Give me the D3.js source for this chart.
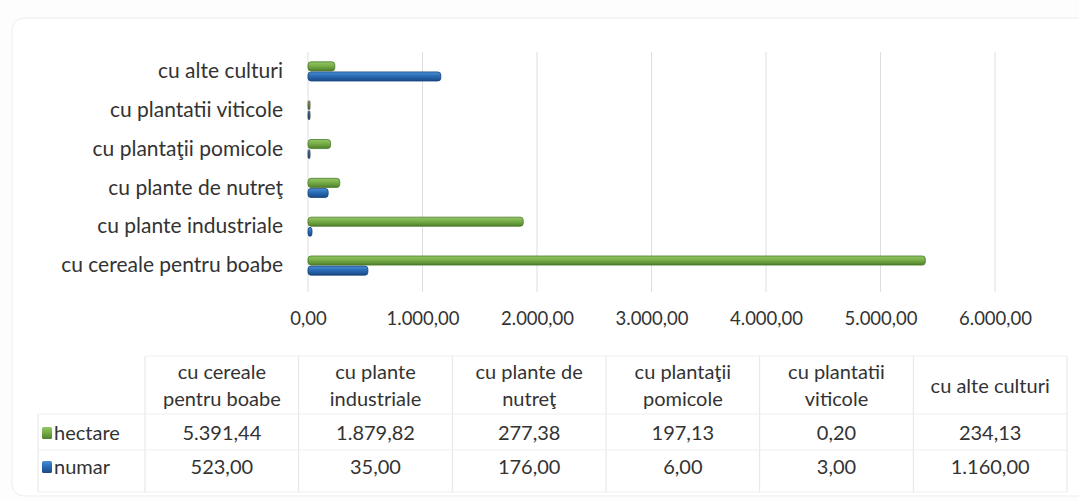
<!DOCTYPE html>
<html lang="ro">
<head>
<meta charset="utf-8">
<title>Exploatatii agricole</title>
<script src="https://cdnjs.cloudflare.com/ajax/libs/d3/7.8.5/d3.min.js"></script>
<style>
  body { margin: 0; background: #fdfdfd; }
  svg text { font-family: Lato, "Open Sans", sans-serif; fill: #333; }
</style>
</head>
<body>
<div id="chart"></div>
<script>
// categories as they appear in the table (left to right)
const categories = ["cu cereale pentru boabe", "cu plante industriale", "cu plante de nutreţ",
                    "cu plantaţii pomicole", "cu plantatii viticole", "cu alte culturi"];
// same categories, wrapped the way the table header shows them
const tableHeaders = [["cu cereale", "pentru boabe"], ["cu plante", "industriale"], ["cu plante de", "nutreţ"],
                      ["cu plantaţii", "pomicole"], ["cu plantatii", "viticole"], ["cu alte culturi"]];
const seriesNames = ["hectare", "numar"];
const hectare = [5391.44, 1879.82, 277.38, 197.13, 0.20, 234.13];
const numar = [523, 35, 176, 6, 3, 1160];
const tickValues = [0, 1000, 2000, 3000, 4000, 5000, 6000];

const W = 1079, H = 501;
const ro = d3.formatLocale({decimal: ",", thousands: ".", grouping: [3], currency: ["", ""]});
const fmt = ro.format(",.2f");

const svg = d3.select("#chart").append("svg")
    .attr("width", W)
    .attr("height", H);

// gradients for the rounded "cylinder" bars
const defs = svg.append("defs");
const grads = {
  hectare: ["#93c664", "#78ae48", "#4f7f2b"],
  numar: ["#4a8fd6", "#2a6cb5", "#1a4a85"]
};
seriesNames.forEach(s => {
  const g = defs.append("linearGradient").attr("id", "g-" + s)
      .attr("x1", 0).attr("y1", 0).attr("x2", 0).attr("y2", 1);
  g.append("stop").attr("offset", "0%").attr("stop-color", grads[s][0]);
  g.append("stop").attr("offset", "45%").attr("stop-color", grads[s][1]);
  g.append("stop").attr("offset", "100%").attr("stop-color", grads[s][2]);
});

// outer chart frame (barely visible in the scan)
svg.append("rect")
    .attr("x", 12).attr("y", 18)
    .attr("width", 1100).attr("height", 478)
    .attr("rx", 12)
    .attr("fill", "#fff")
    .attr("stroke", "#ededed");

const x = d3.scaleLinear().domain([0, 6000]).range([308, 995]);
const y = d3.scaleBand()
    .domain(categories.slice().reverse())
    .range([52, 285])
    .paddingInner(0.48)
    .paddingOuter(0.24);
const ySub = d3.scaleBand().domain(seriesNames).range([0, y.bandwidth()]);

// vertical gridlines
svg.append("g").selectAll("line")
  .data(tickValues)
  .join("line")
    .attr("x1", d => x(d)).attr("x2", d => x(d))
    .attr("y1", 52).attr("y2", 292)
    .attr("stroke", "#dedede");

// x axis labels
const xAxis = d3.axisBottom(x).tickValues(tickValues).tickFormat(fmt).tickSize(0).tickPadding(0);
const gx = svg.append("g").attr("transform", "translate(0,312)").call(xAxis);
gx.select(".domain").remove();
gx.selectAll("text").style("font-size", "18.5px").attr("fill", "#333").attr("font-family", null);

// category labels
const yAxis = d3.axisLeft(y).tickSize(0).tickPadding(0);
const gy = svg.append("g").attr("transform", "translate(283,0)").call(yAxis);
gy.select(".domain").remove();
gy.selectAll("text").style("font-size", "21px").attr("fill", "#333").attr("font-family", null);

// bars
const values = {hectare: hectare, numar: numar};
const bars = [];
seriesNames.forEach(s => categories.forEach((c, i) => bars.push({s: s, c: c, v: values[s][i]})));

svg.append("g").selectAll("rect")
  .data(bars)
  .join("rect")
    .attr("x", x(0))
    .attr("y", d => y(d.c) + ySub(d.s) + 0.5)
    .attr("width", d => Math.max(2, x(d.v) - x(0)))
    .attr("height", ySub.bandwidth() - 1)
    .attr("rx", 3)
    .attr("fill", d => "url(#g-" + d.s + ")")
    .attr("stroke", d => d.v < 10 ? "#333" : (d.s === "hectare" ? "#4d7a2c" : "#1b4378"))
    .attr("stroke-width", 0.8);

// data table
const tx = d3.scaleBand().domain(categories).range([145, 1067]);
const tableTop = 356, rowY = {hectare: 433, numar: 467}, tableBottom = 492;
const table = svg.append("g");

table.selectAll("line.v")
  .data(tx.domain().map(c => tx(c)).concat([tx.range()[1]]))
  .join("line")
    .attr("class", "v")
    .attr("x1", d => d).attr("x2", d => d)
    .attr("y1", tableTop).attr("y2", tableBottom)
    .attr("stroke", "#e4e4e4");
table.append("line")
    .attr("x1", 38).attr("x2", 38).attr("y1", 414).attr("y2", tableBottom)
    .attr("stroke", "#e4e4e4");
[[145, 1067, tableTop], [38, 1067, 414], [38, 1067, 450], [38, 1067, tableBottom]].forEach(l => {
  table.append("line")
      .attr("x1", l[0]).attr("x2", l[1]).attr("y1", l[2]).attr("y2", l[2])
      .attr("stroke", "#efefef");
});

// headers
table.selectAll("text.head")
  .data(categories)
  .join("text")
    .attr("class", "head")
    .attr("text-anchor", "middle")
    .style("font-size", "20px")
    .each(function(c, i) {
      const lines = tableHeaders[i];
      const t = d3.select(this);
      const y0 = lines.length === 1 ? 386 : 372;
      lines.forEach((ln, k) => {
        t.append("tspan")
          .attr("x", tx(c) + tx.bandwidth() / 2)
          .attr("y", y0 + k * 27)
          .attr("dy", "0.35em")
          .text(ln);
      });
    });

// rows
seriesNames.forEach(s => {
  table.append("rect")
      .attr("x", 42).attr("y", rowY[s] - 6)
      .attr("width", 10).attr("height", 12)
      .attr("rx", 1.5)
      .attr("fill", "url(#g-" + s + ")");
  table.append("text")
      .attr("x", 54).attr("y", rowY[s]).attr("dy", "0.35em")
      .style("font-size", "20px")
      .text(s);
  table.selectAll("text.val-" + s)
    .data(categories)
    .join("text")
      .attr("class", "val-" + s)
      .attr("x", c => tx(c) + tx.bandwidth() / 2)
      .attr("y", rowY[s]).attr("dy", "0.35em")
      .attr("text-anchor", "middle")
      .style("font-size", "20px")
      .text((c, i) => fmt(values[s][i]));
});
</script>
</body>
</html>
